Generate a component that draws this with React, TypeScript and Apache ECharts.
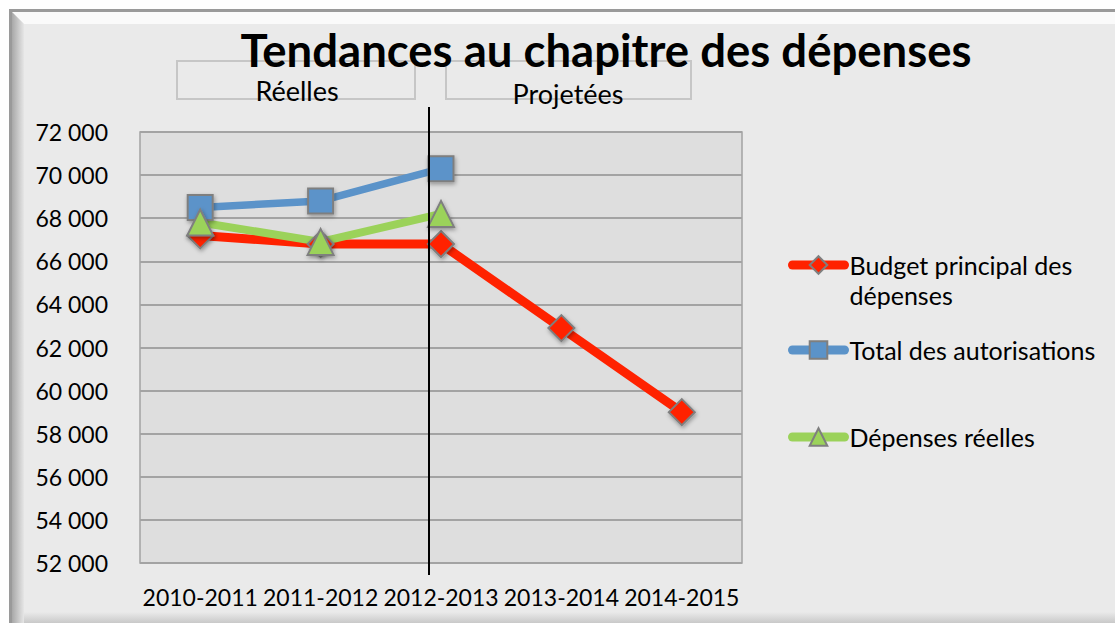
import React, { useEffect, useRef } from "react";
import * as echarts from "echarts";

const TITLE = "Tendances au chapitre des dépenses";
const CATEGORIES = ["2010-2011", "2011-2012", "2012-2013", "2013-2014", "2014-2015"];
const BUDGET_NAME = "Budget principal des dépenses";
const TOTAL_NAME = "Total des autorisations";
const REAL_NAME = "Dépenses réelles";
const BUDGET = [67200, 66800, 66800, 62900, 59000];
const TOTAL = [68500, 68800, 70300, null, null];
const REAL = [67800, 66900, 68200, null, null];
const PERIOD_LABELS = ["Réelles", "Projetées"];
const Y_MIN = 52000;
const Y_MAX = 72000;
const Y_STEP = 2000;

const RED = "#ff2200";
const BLUE = "#5b93c9";
const GREEN = "#9bd25a";
const FONT = "Lato, 'Noto Sans', sans-serif";

export default function App() {
  const ref = useRef<HTMLDivElement>(null);
  useEffect(() => {
    document.body.style.margin = "0";
    const chart = echarts.init(ref.current!, undefined, { renderer: "svg" });
    const markerStyle = (color: string) => ({
      color,
      borderColor: "#7f7f7f",
      borderWidth: 2,
      shadowBlur: 4,
      shadowColor: "rgba(0,0,0,0.35)",
      shadowOffsetX: 1,
      shadowOffsetY: 2,
    });
    const legendCommon = (color: string) => ({
      orient: "vertical",
      left: 788,
      padding: 0,
      itemWidth: 52,
      itemHeight: 22,
      lineStyle: { width: 9, color, cap: "round" },
      itemStyle: { borderColor: "#7f7f7f", borderWidth: 2 },
      textStyle: { color: "#000", fontSize: 25, fontFamily: FONT, lineHeight: 30 },
    });
    chart.setOption({
      animation: false,
      backgroundColor: "#ffffff",
      textStyle: { fontFamily: FONT },
      title: {
        text: TITLE,
        left: 601,
        textAlign: "center",
        top: 21,
        textStyle: { fontSize: 45.5, fontWeight: "bold", color: "#000", fontFamily: FONT },
        z: 20,
      },
      grid: {
        left: 140,
        right: 373,
        top: 132,
        bottom: 60,
        show: true,
        backgroundColor: "#dedede",
        borderColor: "#a3a3a3",
        borderWidth: 1.5,
      },
      xAxis: {
        type: "category",
        data: CATEGORIES,
        boundaryGap: true,
        axisLine: { show: false },
        axisTick: { show: false },
        axisLabel: { color: "#000", fontSize: 23, fontFamily: FONT, margin: 22, interval: 0 },
      },
      yAxis: {
        type: "value",
        min: Y_MIN,
        max: Y_MAX,
        interval: Y_STEP,
        axisLine: { show: false },
        axisTick: { show: false },
        splitLine: { lineStyle: { color: "#a3a3a3", width: 2 } },
        axisLabel: {
          color: "#000",
          fontSize: 23,
          fontFamily: FONT,
          margin: 32,
          formatter: (v: number) => String(v).replace(/\B(?=(\d{3})+(?!\d))/g, " "),
        },
      },
      legend: [
        {
          ...legendCommon(RED),
          top: 220,
          data: [BUDGET_NAME],
          formatter: (n: string) => " \n" + n.replace(" dépenses", "\ndépenses"),
        },
        { ...legendCommon(BLUE), top: 335, data: [TOTAL_NAME] },
        { ...legendCommon(GREEN), top: 422, data: [REAL_NAME] },
      ],
      series: [
        {
          name: BUDGET_NAME,
          type: "line",
          data: BUDGET,
          symbol: "diamond",
          symbolSize: 26,
          lineStyle: { color: RED, width: 9 },
          itemStyle: markerStyle(RED),
        },
        {
          name: TOTAL_NAME,
          type: "line",
          data: TOTAL,
          symbol: "rect",
          symbolSize: 25,
          lineStyle: { color: BLUE, width: 7.5 },
          itemStyle: markerStyle(BLUE),
        },
        {
          name: REAL_NAME,
          type: "line",
          data: REAL,
          symbol: "triangle",
          symbolSize: 26,
          lineStyle: { color: GREEN, width: 8 },
          itemStyle: markerStyle(GREEN),
        },
      ],
      graphic: [
        { type: "rect", z: -10, shape: { x: 9, y: 9, width: 1106, height: 614 }, style: { fill: "#eaeaea" } },
        { type: "rect", z: -9, shape: { x: 9, y: 9, width: 1106, height: 3 }, style: { fill: "#9a9a9a" } },
        { type: "rect", z: -9, shape: { x: 9, y: 9, width: 3, height: 614 }, style: { fill: "#9a9a9a" } },
        {
          type: "polygon",
          z: -8,
          shape: { points: [[12, 12], [1115, 12], [1115, 24], [24, 24]] },
          style: { fill: "#fafafa" },
        },
        {
          type: "polygon",
          z: -8,
          shape: { points: [[12, 12], [24, 24], [24, 623], [12, 623]] },
          style: {
            fill: new echarts.graphic.LinearGradient(0, 0, 1, 0, [
              { offset: 0, color: "#a8a8a8" },
              { offset: 1, color: "#e6e6e6" },
            ]),
          },
        },
        {
          type: "rect",
          z: -8,
          shape: { x: 24, y: 612, width: 1091, height: 11 },
          style: {
            fill: new echarts.graphic.LinearGradient(0, 0, 0, 1, [
              { offset: 0, color: "#eaeaea" },
              { offset: 1, color: "#c9c9c9" },
            ]),
          },
        },
        {
          type: "rect",
          z: 5,
          shape: { x: 177, y: 61, width: 238, height: 38 },
          style: { fill: "none", stroke: "#c6c6c6", lineWidth: 2 },
        },
        {
          type: "rect",
          z: 5,
          shape: { x: 446, y: 61, width: 245, height: 38 },
          style: { fill: "none", stroke: "#c6c6c6", lineWidth: 2 },
        },
        {
          type: "text",
          z: 6,
          x: 297,
          y: 90,
          style: {
            text: PERIOD_LABELS[0],
            fill: "#000",
            font: `27px ${FONT}`,
            textAlign: "center",
            textVerticalAlign: "middle",
          },
        },
        {
          type: "text",
          z: 6,
          x: 568,
          y: 93,
          style: {
            text: PERIOD_LABELS[1],
            fill: "#000",
            font: `27px ${FONT}`,
            textAlign: "center",
            textVerticalAlign: "middle",
          },
        },
        {
          type: "line",
          z: 30,
          shape: { x1: 429, y1: 107, x2: 429, y2: 575 },
          style: { stroke: "#000", lineWidth: 2 },
        },
      ],
    });
    return () => chart.dispose();
  }, []);
  return <div ref={ref} style={{ width: 1115, height: 623 }} />;
}
